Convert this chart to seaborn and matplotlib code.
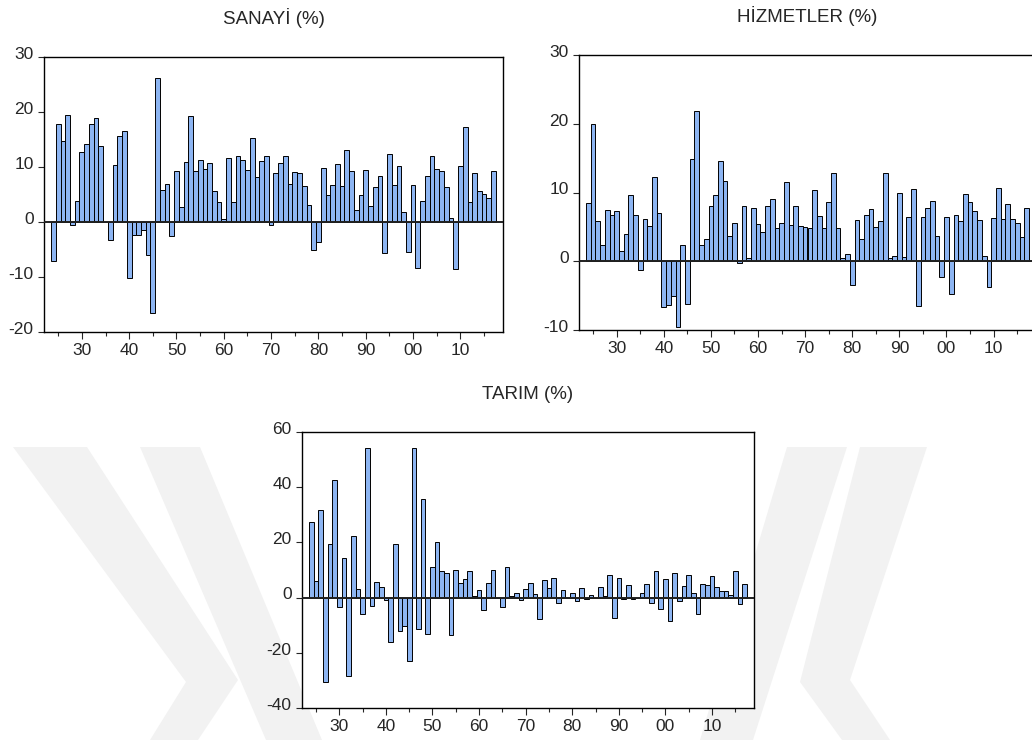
import matplotlib
matplotlib.use('Agg')
import matplotlib.pyplot as plt
import matplotlib.ticker as ticker
from matplotlib.patches import Polygon
from matplotlib.transforms import ScaledTranslation
import pandas as pd
import seaborn as sns

# yillik buyume oranlari (%), 1924-2017
years = list(range(1924, 2018))

sanayi = [-7.0, 17.8, 14.8, 19.4, -0.6, 3.8, 12.7, 14.2, 17.8, 18.9,
          13.8, 0.0, -3.3, 10.4, 15.7, 16.6, -10.1, -2.3, -2.4, -1.4,
          -6.0, -16.5, 26.1, 5.8, 7.0, -2.6, 9.3, 2.7, 11.0, 19.2,
          9.2, 11.3, 9.6, 10.7, 5.6, 3.6, 0.5, 11.7, 3.6, 12.0,
          11.2, 9.5, 15.2, 8.2, 11.1, 12.0, -0.5, 8.9, 10.7, 12.0,
          7.0, 9.1, 8.9, 6.6, 3.1, -5.0, -3.6, 9.9, 5.0, 6.7,
          10.5, 6.6, 13.1, 9.2, 2.1, 5.0, 9.4, 2.9, 6.3, 8.3,
          -5.7, 12.4, 6.8, 10.2, 1.9, -5.4, 6.8, -8.4, 3.8, 8.3,
          12.0, 9.7, 9.3, 6.4, 0.7, -8.6, 10.2, 17.3, 3.6, 9.0,
          5.6, 5.1, 4.3, 9.2]

hizmetler = [8.5, 19.9, 5.8, 2.3, 7.4, 6.8, 7.3, 1.5, 4.0, 9.7,
             6.7, -1.2, 6.1, 5.2, 12.2, 7.0, -6.7, -6.4, -5.0, -9.6,
             2.3, -6.2, 14.9, 21.9, 2.4, 3.2, 8.1, 9.7, 14.6, 11.7,
             3.7, 5.6, -0.2, 8.0, 0.5, 7.7, 5.4, 4.3, 8.1, 9.0,
             4.8, 5.6, 11.6, 5.3, 8.0, 5.1, 5.0, 4.8, 10.3, 6.6,
             4.8, 8.6, 12.9, 4.8, 0.5, 1.0, -3.5, 6.0, 3.2, 6.8,
             7.6, 5.0, 5.8, 12.8, 0.5, 0.8, 10.0, 0.6, 6.4, 10.5,
             -6.5, 6.4, 7.8, 8.7, 3.7, -2.3, 6.5, -4.8, 6.8, 5.8,
             9.8, 8.6, 7.3, 6.0, 0.8, -3.8, 6.3, 10.6, 6.2, 8.4,
             6.2, 5.5, 3.5, 7.8]

tarim = [27.3, 5.9, 31.9, -30.5, 19.5, 42.7, -3.5, 14.5, -28.3, 22.2,
         3.0, -5.8, 54.2, -3.1, 5.7, 4.0, -0.9, -16.2, 19.6, -12.2,
         -10.3, -23.0, 54.3, -11.2, 35.7, -13.2, 11.1, 20.1, 9.8, 8.9,
         -13.5, 10.0, 5.3, 6.8, 9.6, 0.6, 2.7, -4.6, 5.3, 9.9,
         -0.1, -3.5, 11.0, 0.6, 1.8, -1.0, 3.1, 5.3, 1.3, -7.7,
         6.4, 3.3, 7.1, -1.9, 2.9, 0.0, 1.6, -1.4, 3.6, -0.5,
         1.0, -0.2, 3.8, 0.5, 8.2, -7.4, 7.1, -0.5, 4.5, -0.5,
         -0.2, 1.6, 4.8, -1.9, 9.8, -4.2, 6.7, -8.6, 8.8, -1.3,
         4.1, 8.2, 1.8, -6.0, 4.8, 4.4, 7.9, 3.8, 2.4, 2.5,
         0.8, 9.6, -2.2, 5.0]

BAR_COLOR = '#8db5f2'
W, H = 1032, 740


def px_rect(left, top, right, bottom):
    return [left / W, 1 - bottom / H, (right - left) / W, (bottom - top) / H]


def plot_growth(fig, ax, values, title, ylim, ystep):
    df = pd.DataFrame({'yil': years, 'deger': values})
    sns.barplot(data=df, x='yil', y='deger', native_scale=True, width=1.0,
                color=BAR_COLOR, saturation=1, edgecolor='black',
                linewidth=0.7, errorbar=None, ax=ax)
    ax.axhline(0, color='#202020', lw=1.4, zorder=3)
    ax.set_facecolor('white')
    ax.set_xlim(1922, 2019)
    ax.set_ylim(*ylim)
    ax.set_xlabel('')
    ax.set_ylabel('')

    ax.xaxis.set_major_locator(ticker.FixedLocator(range(1930, 2011, 10)))
    ax.xaxis.set_minor_locator(ticker.FixedLocator(range(1925, 2016, 10)))
    ax.xaxis.set_major_formatter(ticker.FuncFormatter(lambda v, p: f"{int(round(v)) % 100:02d}"))
    ax.set_yticks(range(ylim[0], ylim[1] + 1, ystep))
    ax.tick_params(axis='x', which='major', direction='out', length=5, width=0.8,
                   labelsize=12.5, pad=3)
    ax.tick_params(axis='x', which='minor', direction='out', length=3, width=0.8)
    ax.tick_params(axis='y', direction='out', length=4.5, width=0.8,
                   labelsize=12.5, pad=3)

    # EViews puts the value labels slightly above the tick
    shift = ScaledTranslation(0, 3 / 72, fig.dpi_scale_trans)
    for t in ax.yaxis.get_major_ticks():
        t.label1.set_transform(t.label1.get_transform() + shift)

    for sp in ax.spines.values():
        sp.set_visible(True)
        sp.set_color('black')
        sp.set_linewidth(1.0)
    ax.set_title(title, fontsize=13.5, pad=24)


def main():
    sns.set_style('ticks')
    plt.rcParams['font.family'] = ['Liberation Sans', 'DejaVu Sans']
    plt.rcParams['axes.unicode_minus'] = False

    fig = plt.figure(figsize=(W / 100, H / 100), dpi=100)

    # faint watermark behind the plots
    marks = [
        [(13, 447), (87, 447), (238, 680), (198, 740), (150, 740), (186, 682)],
        [(140, 447), (200, 447), (322, 740), (266, 740)],
        [(787, 447), (847, 447), (753, 740), (700, 740)],
        [(860, 447), (927, 447), (850, 680), (890, 740), (842, 740), (800, 682)],
    ]
    for pts in marks:
        poly = Polygon([(x / W, 1 - y / H) for x, y in pts], closed=True,
                       transform=fig.transFigure, facecolor='#f2f2f2',
                       edgecolor='none', zorder=-1)
        fig.add_artist(poly)

    ax1 = fig.add_axes(px_rect(44, 57, 503, 332))
    ax2 = fig.add_axes(px_rect(579, 55, 1036, 330))
    ax3 = fig.add_axes(px_rect(302, 432, 754, 708))

    plot_growth(fig, ax1, sanayi, 'SANAYİ (%)', (-20, 30), 10)
    plot_growth(fig, ax2, hizmetler, 'HİZMETLER (%)', (-10, 30), 10)
    plot_growth(fig, ax3, tarim, 'TARIM (%)', (-40, 60), 20)

    fig.savefig('out.png', dpi=100)


main()
